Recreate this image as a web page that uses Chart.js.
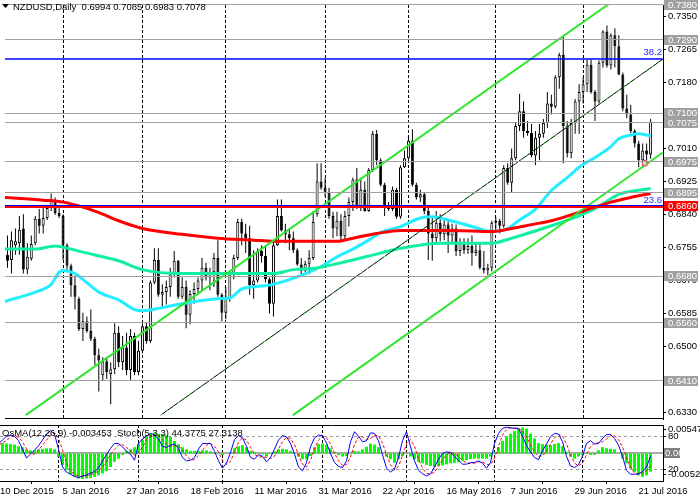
<!DOCTYPE html>
<html>
<head>
<meta charset="utf-8">
<title>NZDUSD Daily</title>
<script src="https://cdn.jsdelivr.net/npm/chart.js@4.4.1/dist/chart.umd.min.js"></script>
<style>
  html, body { margin: 0; padding: 0; background: #fff; }
  #wrap { position: relative; width: 700px; height: 502px; overflow: hidden; background: #fff; }
  canvas { position: absolute; left: 0; display: block; }
  #main { top: 0; }
  #osc { top: 424px; }
</style>
</head>
<body>
<div id="wrap">
  <canvas id="main" width="700" height="424"></canvas>
  <canvas id="osc" width="700" height="78"></canvas>
</div>
<script>
// ---- data ----
const dateLabels = ['10 Dec 2015', '5 Jan 2016', '27 Jan 2016', '18 Feb 2016', '11 Mar 2016', '31 Mar 2016',
                    '22 Apr 2016', '16 May 2016', '7 Jun 2016', '29 Jun 2016', '21 Jul 2016'];
const dateTicks = [0, 16, 32, 48, 64, 80, 96, 112, 128, 144, 160];
const monthStarts = [15, 35, 56, 81, 102, 124, 146];
const priceTicks = [0.6330, 0.6415, 0.6500, 0.6585, 0.6670, 0.6755, 0.6840, 0.6925, 0.7010, 0.7095, 0.7180, 0.7265, 0.7350];

const open = [
  .6722,.6735,.6722,.6760,.6765,.6803,.6697,.6725,.6765,.6828,
  .6810,.6830,.6856,.6876,.6843,.6835,.6760,.6707,.6657,.6622,
  .6544,.6564,.6539,.6519,.6476,.6425,.6461,.6428,.6440,.6534,
  .6458,.6496,.6438,.6526,.6433,.6488,.6551,.6513,.6664,.6722,
  .6632,.6639,.6652,.6685,.6720,.6627,.6652,.6581,.6634,.6647,
  .6669,.6702,.6677,.6690,.6727,.6632,.6586,.6622,.6685,.6727,
  .6820,.6790,.6778,.6657,.6669,.6745,.6732,.6672,.6609,.6760,
  .6835,.6798,.6788,.6778,.6747,.6710,.6695,.6712,.6727,.6840,
  .6924,.6908,.6898,.6835,.6803,.6823,.6783,.6835,.6871,.6929,
  .6861,.6903,.6848,.6954,.7047,.6979,.6916,.6861,.6853,.6903,
  .6833,.6961,.6984,.7029,.6916,.6883,.6891,.6848,.6790,.6778,
  .6818,.6788,.6813,.6785,.6803,.6745,.6765,.6747,.6758,.6740,
  .6747,.6702,.6695,.6702,.6818,.6823,.6810,.6959,.6921,.6984,
  .7067,.7105,.7054,.7049,.6991,.7037,.7047,.7075,.7125,.7117,
  .7193,.7251,.7067,.6997,.7075,.7130,.7155,.7175,.7225,.7155,
  .7130,.7230,.7311,.7223,.7301,.7273,.7200,.7112,.7097,.7054,
  .7022,.6979,.7004,.6994];
const high = [
  .6778,.6785,.6795,.6803,.6835,.6840,.6765,.6785,.6835,.6853,
  .6858,.6863,.6893,.6883,.6861,.6840,.6765,.6712,.6682,.6627,
  .6586,.6576,.6594,.6524,.6493,.6471,.6471,.6458,.6559,.6551,
  .6526,.6534,.6544,.6534,.6513,.6564,.6561,.6669,.6752,.6752,
  .6659,.6669,.6702,.6745,.6722,.6677,.6669,.6644,.6664,.6677,
  .6727,.6715,.6702,.6740,.6773,.6637,.6652,.6690,.6735,.6828,
  .6828,.6815,.6810,.6747,.6752,.6760,.6758,.6677,.6770,.6878,
  .6878,.6815,.6803,.6795,.6752,.6727,.6720,.6747,.6848,.6971,
  .6971,.6934,.6908,.6846,.6846,.6840,.6848,.6883,.6934,.6959,
  .6934,.6924,.6959,.7054,.7057,.6984,.6921,.6871,.6911,.6908,
  .6966,.7004,.7042,.7059,.6921,.6903,.6896,.6858,.6833,.6848,
  .6840,.6828,.6823,.6815,.6813,.6778,.6778,.6778,.6785,.6765,
  .6765,.6745,.6712,.6823,.6833,.6828,.6966,.6971,.7009,.7075,
  .7150,.7130,.7080,.7072,.7054,.7072,.7085,.7155,.7148,.7198,
  .7256,.7298,.7080,.7085,.7137,.7175,.7193,.7238,.7238,.7160,
  .7236,.7314,.7326,.7306,.7319,.7301,.7205,.7148,.7122,.7059,
  .7029,.7022,.7022,.7085];
const low = [
  .6707,.6702,.6687,.6735,.6735,.6687,.6685,.6720,.6760,.6790,
  .6790,.6825,.6848,.6838,.6830,.6722,.6690,.6627,.6594,.6539,
  .6513,.6534,.6513,.6451,.6383,.6410,.6415,.6350,.6428,.6446,
  .6438,.6425,.6413,.6425,.6425,.6481,.6506,.6508,.6659,.6627,
  .6596,.6607,.6627,.6677,.6622,.6622,.6546,.6556,.6609,.6634,
  .6644,.6669,.6644,.6652,.6627,.6564,.6569,.6614,.6672,.6722,
  .6760,.6740,.6632,.6622,.6664,.6715,.6664,.6584,.6576,.6758,
  .6795,.6765,.6747,.6740,.6707,.6685,.6690,.6685,.6722,.6833,
  .6903,.6886,.6828,.6778,.6783,.6773,.6773,.6808,.6848,.6853,
  .6848,.6846,.6846,.6949,.6966,.6911,.6835,.6848,.6848,.6828,
  .6828,.6959,.6974,.6911,.6878,.6871,.6840,.6722,.6720,.6765,
  .6770,.6773,.6740,.6765,.6732,.6732,.6737,.6737,.6707,.6732,
  .6697,.6687,.6682,.6692,.6798,.6790,.6805,.6916,.6896,.6979,
  .7054,.7037,.7042,.6986,.6966,.6979,.7037,.7062,.7097,.7112,
  .7163,.6971,.6986,.6984,.7047,.7047,.7125,.7155,.7150,.7080,
  .7125,.7218,.7218,.7213,.7218,.7198,.7105,.7087,.7049,.7012,
  .6961,.6959,.6966,.6983];
const close = [
  .6752,.6720,.6773,.6770,.6800,.6697,.6730,.6763,.6828,.6810,
  .6830,.6856,.6876,.6843,.6835,.6760,.6707,.6657,.6627,.6544,
  .6564,.6539,.6519,.6476,.6463,.6461,.6433,.6440,.6534,.6458,
  .6496,.6438,.6526,.6433,.6488,.6551,.6513,.6664,.6722,.6632,
  .6639,.6652,.6685,.6720,.6627,.6652,.6581,.6634,.6647,.6669,
  .6702,.6677,.6690,.6727,.6632,.6586,.6622,.6685,.6727,.6820,
  .6790,.6778,.6657,.6669,.6745,.6732,.6672,.6609,.6760,.6835,
  .6798,.6788,.6778,.6747,.6710,.6695,.6712,.6727,.6820,.6924,
  .6908,.6898,.6835,.6803,.6823,.6783,.6835,.6871,.6929,.6861,
  .6903,.6848,.6954,.7047,.6979,.6916,.6861,.6853,.6903,.6833,
  .6961,.6984,.7029,.6916,.6883,.6891,.6848,.6790,.6778,.6818,
  .6788,.6813,.6785,.6803,.6745,.6765,.6747,.6758,.6740,.6747,
  .6702,.6695,.6702,.6818,.6823,.6810,.6959,.6921,.6984,.7067,
  .7105,.7054,.7049,.6991,.7037,.7047,.7075,.7125,.7117,.7193,
  .7251,.7067,.6997,.7075,.7130,.7155,.7175,.7225,.7155,.7130,
  .7230,.7311,.7223,.7301,.7273,.7200,.7112,.7097,.7054,.7022,
  .6979,.7004,.6994,.7078];

// moving averages, [bar, price]
const maRed = [[0,.6883],[10,.6876],[15,.6871],[20,.6858],[25,.6840],[29,.6823],[35,.6803],[45,.6788],[54,.6778],
  [63,.6773],[68,.6770],[78,.6770],[84,.6770],[88,.6778],[94,.6790],[100,.6798],[113,.6798],[123,.6795],[128,.6803],
  [133,.6813],[138,.6823],[146,.6848],[153,.6871],[158,.6883],[163,.6893]];
const maGreen = [[0,.6750],[8,.6750],[13,.6758],[15,.6755],[20,.6742],[25,.6730],[29,.6720],[35,.6697],[45,.6687],
  [55,.6687],[68,.6687],[73,.6697],[78,.6700],[84,.6712],[88,.6722],[94,.6737],[100,.6752],[110,.6765],[123,.6765],
  [128,.6778],[138,.6810],[146,.6840],[150,.6860],[155,.6891],[163,.6906]];
const maCyan = [[0,.6614],[8,.6639],[12,.6659],[14,.6690],[15,.6695],[18,.6687],[20,.6672],[24,.6639],[29,.6619],
  [33,.6594],[35,.6591],[40,.6599],[45,.6609],[54,.6622],[57,.6624],[60,.6647],[67,.6657],[75,.6682],[80,.6705],
  [84,.6730],[88,.6750],[92,.6773],[95,.6793],[100,.6808],[105,.6830],[108,.6833],[112,.6825],[118,.6808],[123,.6795],
  [127,.6803],[130,.6825],[134,.6853],[138,.6901],[142,.6934],[145,.6961],[149,.6986],[153,.7014],[155,.7034],
  [158,.7044],[160,.7047],[163,.7042]];

// trend channel, [bar, price] end points
const channelUpper = [[5.6, 0.6322], [152.4, 0.7381]];
const channelMiddle = [[39.6, 0.6322], [165.9, 0.7238]];
const channelLower = [[72.9, 0.6322], [166.1, 0.6999]];
const marker = [[161.6, 0.6971]];

const grayLevels = [0.7380, 0.7290, 0.7100, 0.7075, 0.6975, 0.6895, 0.6680, 0.6560, 0.6410];
const fiboLevels = [0.7240, 0.6860];
const fiboNames = ['38.2', '23.6'];
const redLevel = 0.6860;

const osma = [
  .0019,.0020,.0019,.0018,.0017,.0014,.0012,.0008,.0006,.0006,
  .0008,.0009,.0010,.0010,.0008,-.0006,-.0022,-.0032,-.0040,-.0045,
  -.0048,-.0049,-.0048,-.0047,-.0045,-.0042,-.0038,-.0034,-.0026,-.0016,
  -.0010,-.0003,.0005,.0008,.0012,.0019,.0027,.0033,.0038,.0040,
  .0038,.0037,.0035,.0032,.0024,.0018,.0012,.0008,.0005,.0005,
  .0005,.0006,.0006,.0004,.0001,-.0001,-.0003,-.0001,.0003,.0010,
  .0014,.0016,.0012,.0005,.0003,.0001,-.0002,-.0006,-.0001,.0004,
  .0008,.0009,.0008,.0005,.0001,-.0006,-.0011,-.0011,-.0005,.0012,
  .0018,.0019,.0017,.0010,.0003,-.0003,-.0006,-.0005,.0000,.0005,
  .0004,.0008,.0013,.0019,.0017,.0012,-.0001,-.0006,-.0011,-.0018,
  -.0011,-.0005,-.0001,-.0006,-.0011,-.0016,-.0019,-.0022,-.0024,-.0026,
  -.0024,-.0023,-.0021,-.0019,-.0018,-.0017,-.0014,-.0013,-.0011,-.0010,
  -.0010,-.0010,-.0010,-.0006,.0003,.0012,.0024,.0033,.0038,.0043,
  .0047,.0050,.0048,.0038,.0029,.0020,.0018,.0017,.0016,.0018,
  .0020,.0014,.0003,-.0006,-.0010,-.0006,-.0003,-.0001,-.0003,-.0003,
  .0006,.0012,.0010,.0009,.0008,.0000,-.0010,-.0019,-.0029,-.0035,
  -.0042,-.0045,-.0042,-.0035];
const stochMain = [
  67,73,80,82,80,72,57,41,48,55, 63,73,84,90,84,57,25,16,12,8,
  6,9,11,14,17,23,36,47,58,67, 67,61,53,48,37,67,75,80,85,82,
  75,62,60,64,66,58,42,36,37,42, 57,67,67,67,53,36,23,32,51,74,
  81,77,62,42,39,47,44,34,42,57, 73,81,79,67,48,25,18,33,61,77,
  82,81,68,49,33,26,24,36,70,88, 80,70,72,86,85,72,47,23,16,21,
  42,72,88,61,36,19,13,9,13,25, 39,49,52,51,44,37,30,30,33,33,
  36,32,23,33,67,85,94,96,95,94, 94,80,63,52,42,38,54,66,79,85,
  84,70,44,27,24,29,44,67,72,66, 67,76,83,83,76,64,44,19,12,12,
  13,17,25,44];
const stochSignal = [
  65,68,73,78,81,78,70,57,49,48, 55,64,73,82,86,77,55,33,18,12,
  9,8,9,11,14,18,25,35,47,57, 64,65,60,54,46,51,60,74,80,82,
  81,73,66,62,63,63,55,45,38,38, 45,55,64,67,62,52,37,30,35,52,
  69,77,73,60,48,43,43,42,40,44, 57,70,78,76,65,47,30,25,37,57,
  73,80,77,66,50,36,28,29,43,65, 79,79,74,76,81,81,68,47,29,20,
  26,45,67,74,62,39,23,14,12,16, 26,38,47,51,49,44,37,32,31,32,
  34,34,30,29,41,62,82,92,95,95, 94,89,79,65,52,44,45,53,66,77,
  83,80,66,47,32,27,32,47,61,68, 68,70,75,81,81,74,61,42,25,14,
  12,14,18,27];
const oscTickLabels = ['0.00547', '80', '20', '-0.00529'];
const oscTickSpots = [0.92, 0.8, 0.2, 0.115];   // share of the pane height

// ---- layout ----
const FAMILY = "'Liberation Sans', Arial, sans-serif";
const FONT = { family: FAMILY, size: 9.5 };
const FONT_CSS = "9.5px " + FAMILY;
const X_MIN = 0.375, X_MAX = 166.125;
const PRICE_MIN = 0.6312, PRICE_MAX = 0.7379;
const OS_MIN = -0.00529, OS_MAX = 0.00547;
const GREEN = '#2EE62E';
const LEVEL_GRAY = '#A0A0A0';

const bars = close.map((c, i) => i);
const wickData = bars.map(i => ({ x: i, y: [low[i], high[i]] }));
const bodyData = bars.map(i => ({ x: i, y: [open[i], close[i]] }));
const pts = arr => arr.map(p => ({ x: p[0], y: p[1] }));

const headerText = 'NZDUSD,Daily  ' + [open[163], high[163], low[163], close[163]].map(v => v.toFixed(4)).join(' ');
const oscHeader = 'OsMA(12,26,9) -0.003453  Stoch(5,3,3) 44.3775 27.3138';

function rowOf(py) { return Math.floor(py) + 0.5; }

function hLine(ctx, a, py, color, width, dash) {
  ctx.save();
  ctx.strokeStyle = color;
  ctx.lineWidth = width;
  ctx.setLineDash(dash || []);
  ctx.beginPath();
  ctx.moveTo(a.left, py);
  ctx.lineTo(a.right, py);
  ctx.stroke();
  ctx.restore();
}

function monthLines(chart) {
  const { ctx, chartArea: a, scales: { x } } = chart;
  ctx.save();
  ctx.strokeStyle = '#000';
  ctx.lineWidth = 1;
  ctx.setLineDash([3, 2]);
  monthStarts.forEach(i => {
    const px = rowOf(x.getPixelForValue(i));
    ctx.beginPath();
    ctx.moveTo(px, a.top);
    ctx.lineTo(px, a.bottom);
    ctx.stroke();
  });
  ctx.restore();
}

function priceBox(ctx, a, py, text, bg) {
  const cy = Math.round(py);
  ctx.fillStyle = bg;
  ctx.fillRect(a.right + 1, cy - 5, 34, 10);
  ctx.fillStyle = '#fff';
  ctx.font = FONT_CSS;
  ctx.textAlign = 'left';
  ctx.textBaseline = 'middle';
  ctx.fillText(text, a.right + 5, cy + 0.5);
}

const mainDecor = {
  id: 'mainDecor',
  beforeDatasetsDraw(chart) {
    monthLines(chart);
  },
  afterDatasetsDraw(chart) {
    const { ctx, chartArea: a, scales: { y } } = chart;
    grayLevels.forEach(v => hLine(ctx, a, rowOf(y.getPixelForValue(v)), LEVEL_GRAY, 1));
    const ry = Math.floor(y.getPixelForValue(redLevel));
    hLine(ctx, a, ry + 1, '#FF0000', 2);
    fiboLevels.forEach(v => {
      const py = Math.floor(y.getPixelForValue(v));
      hLine(ctx, a, v === redLevel ? py - 0.5 : py + 1, '#0000FF', v === redLevel ? 1 : 1.5);
    });
  },
  afterDraw(chart) {
    const { ctx, chartArea: a, scales: { y } } = chart;
    ctx.save();
    // fibo level names
    ctx.font = FONT_CSS;
    ctx.fillStyle = '#2828FF';
    ctx.textAlign = 'right';
    ctx.textBaseline = 'bottom';
    fiboLevels.forEach((v, k) => ctx.fillText(fiboNames[k], a.right - 1, Math.floor(y.getPixelForValue(v)) - 0.5));
    // price boxes on the axis
    grayLevels.forEach(v => priceBox(ctx, a, y.getPixelForValue(v), v.toFixed(4), LEVEL_GRAY));
    priceBox(ctx, a, y.getPixelForValue(redLevel), redLevel.toFixed(4), '#FF0000');
    // bottom border of the pane
    hLine(ctx, a, a.bottom - 0.5, '#000', 1);
    // symbol header
    ctx.fillStyle = '#000';
    ctx.beginPath();
    ctx.moveTo(2, 4);
    ctx.lineTo(9, 4);
    ctx.lineTo(5.5, 8);
    ctx.closePath();
    ctx.fill();
    ctx.font = FONT_CSS;
    ctx.textAlign = 'left';
    ctx.textBaseline = 'middle';
    ctx.fillText(headerText, 13, 7);
    ctx.restore();
  }
};

const oscDecor = {
  id: 'oscDecor',
  beforeDatasetsDraw(chart) {
    const { ctx, chartArea: a, scales: { yOs, ySt } } = chart;
    monthLines(chart);
    hLine(ctx, a, rowOf(ySt.getPixelForValue(80)), LEVEL_GRAY, 1, [3, 3]);
    hLine(ctx, a, rowOf(ySt.getPixelForValue(20)), LEVEL_GRAY, 1, [3, 3]);
    hLine(ctx, a, Math.round(yOs.getPixelForValue(0)), '#909090', 1.5);
  },
  afterDraw(chart) {
    const { ctx, chartArea: a, scales: { yOs } } = chart;
    ctx.save();
    hLine(ctx, a, a.top + 0.5, '#000', 1);
    const zy = Math.round(yOs.getPixelForValue(0));
    ctx.fillStyle = '#808080';
    ctx.fillRect(a.right + 1, zy - 5, 16, 10);
    ctx.fillStyle = '#fff';
    ctx.font = FONT_CSS;
    ctx.textAlign = 'left';
    ctx.textBaseline = 'middle';
    ctx.fillText('0.00', a.right + 2, zy + 0.5);
    ctx.fillStyle = '#000';
    ctx.fillText(oscHeader, 2, a.top + 8);
    ctx.restore();
  }
};

const baseOptions = {
  responsive: false,
  animation: false,
  devicePixelRatio: 1,
  events: [],
  plugins: { legend: { display: false }, tooltip: { enabled: false } }
};

new Chart(document.getElementById('main'), {
  type: 'bar',
  data: {
    datasets: [
      { type: 'line', data: pts(channelUpper), borderColor: GREEN, borderWidth: 2, pointRadius: 0, order: 1 },
      { type: 'line', data: pts(channelLower), borderColor: GREEN, borderWidth: 2, pointRadius: 0, order: 1 },
      { type: 'line', data: pts(channelMiddle), borderColor: GREEN, borderWidth: 1, borderDash: [2, 5], pointRadius: 0, order: 1 },
      { type: 'line', data: pts(channelMiddle), borderColor: '#000', borderWidth: 1, pointRadius: 0, order: 2 },
      { type: 'line', data: pts(marker), showLine: false, pointRadius: 3, pointBorderWidth: 1,
        pointBorderColor: '#FF5070', pointBackgroundColor: 'rgba(255,160,180,0.4)', order: 0 },
      { type: 'line', data: pts(maRed), borderColor: '#FF0000', borderWidth: 3, pointRadius: 0,
        cubicInterpolationMode: 'monotone', order: 3 },
      { type: 'line', data: pts(maGreen), borderColor: '#10F0A0', borderWidth: 3, pointRadius: 0,
        cubicInterpolationMode: 'monotone', order: 4 },
      { type: 'line', data: pts(maCyan), borderColor: '#22EEFF', borderWidth: 3, pointRadius: 0,
        cubicInterpolationMode: 'monotone', order: 4 },
      { type: 'bar', data: bodyData, grouped: false, barThickness: 3, minBarLength: 1, inflateAmount: 0,
        borderWidth: 1, borderSkipped: false, borderColor: '#000',
        backgroundColor: c => (c.dataIndex !== undefined && close[c.dataIndex] >= open[c.dataIndex]) ? '#FFFFFF' : '#000000',
        order: 6 },
      { type: 'bar', data: wickData, grouped: false, barThickness: 1, inflateAmount: 0,
        borderWidth: 0, backgroundColor: '#000', order: 7 }
    ]
  },
  options: Object.assign({}, baseOptions, {
    layout: { padding: 0 },
    scales: {
      x: { type: 'linear', min: X_MIN, max: X_MAX, display: false, offset: false },
      y: {
        type: 'linear', position: 'right', min: PRICE_MIN, max: PRICE_MAX,
        afterBuildTicks: s => { s.ticks = priceTicks.map(v => ({ value: v })); },
        afterFit: s => { s.width = 37; s.paddingTop = 0; s.paddingBottom = 0; },
        ticks: { callback: v => v.toFixed(4), color: '#000', font: FONT, padding: 2, autoSkip: false },
        grid: { drawOnChartArea: false, drawTicks: true, tickLength: 3, color: '#000' },
        border: { display: true, color: '#000' }
      }
    }
  }),
  plugins: [mainDecor]
});

new Chart(document.getElementById('osc'), {
  type: 'bar',
  data: {
    datasets: [
      { type: 'line', yAxisID: 'ySt', data: bars.map(i => ({ x: i, y: stochMain[i] })),
        borderColor: '#0000FF', borderWidth: 1, pointRadius: 0, order: 1 },
      { type: 'line', yAxisID: 'ySt', data: bars.map(i => ({ x: i, y: stochSignal[i] })),
        borderColor: '#FF0000', borderWidth: 1, borderDash: [3, 2], pointRadius: 0, order: 2 },
      { type: 'bar', yAxisID: 'yOs', data: bars.map(i => ({ x: i, y: osma[i] })),
        backgroundColor: '#00FF00', barThickness: 3, inflateAmount: 0, borderWidth: 0, order: 3 }
    ]
  },
  options: Object.assign({}, baseOptions, {
    layout: { padding: { top: 1, left: 0, right: 0, bottom: 0 } },
    scales: {
      x: {
        type: 'linear', min: X_MIN, max: X_MAX, position: 'bottom', offset: false,
        afterBuildTicks: s => { s.ticks = dateTicks.map(v => ({ value: Math.max(v, X_MIN) })); },
        afterFit: s => { s.height = 21; s.paddingLeft = 0; s.paddingRight = 0; },
        ticks: { callback: (v, k) => dateLabels[k], align: 'start', maxRotation: 0, minRotation: 0,
                 autoSkip: false, padding: 2, color: '#000', font: FONT },
        grid: { drawOnChartArea: false, drawTicks: true, tickLength: 3, color: '#000' },
        border: { display: true, color: '#000' }
      },
      yOs: {
        type: 'linear', position: 'right', min: OS_MIN, max: OS_MAX,
        afterBuildTicks: s => { s.ticks = oscTickSpots.map(f => ({ value: OS_MIN + f * (OS_MAX - OS_MIN) })); },
        afterFit: s => { s.width = 37; s.paddingTop = 0; s.paddingBottom = 0; },
        ticks: { callback: (v, k) => oscTickLabels[k], color: '#000', font: FONT, padding: 2, autoSkip: false },
        grid: { drawOnChartArea: false, drawTicks: true, tickLength: 3, color: '#000' },
        border: { display: true, color: '#000' }
      },
      ySt: { type: 'linear', display: false, min: 0, max: 100 }
    }
  }),
  plugins: [oscDecor]
});
</script>
</body>
</html>
